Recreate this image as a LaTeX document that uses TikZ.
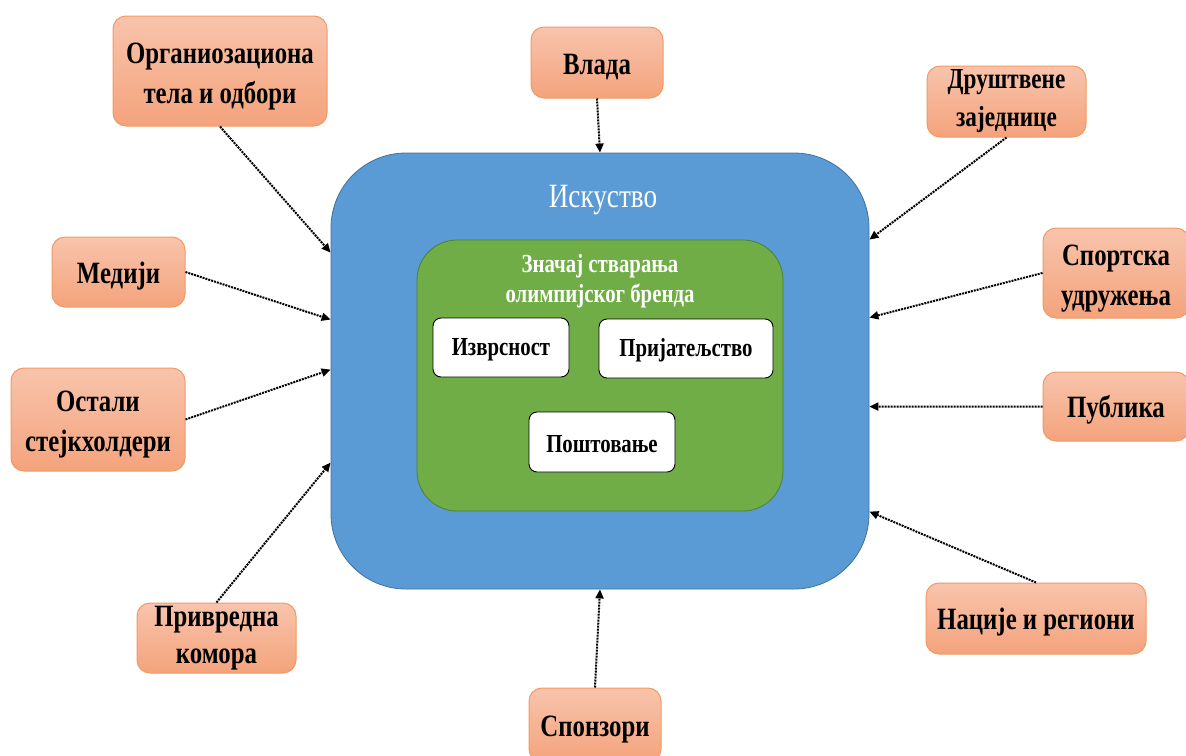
\documentclass[tikz,border=0pt]{standalone}
\usepackage{fontspec}
\setmainfont{Liberation Serif}
\newfontfamily\condfont[FakeStretch=0.8]{Liberation Serif}
\usetikzlibrary{arrows.meta}

\definecolor{orangeTop}{HTML}{F8C4AC}
\definecolor{orangeBot}{HTML}{F4A37C}
\definecolor{orangeEdge}{HTML}{F29A62}
\definecolor{expBlue}{HTML}{5B9BD5}
\definecolor{expEdge}{HTML}{41719C}
\definecolor{brandGreen}{HTML}{70AD47}
\definecolor{brandEdge}{HTML}{507E32}

% invisible strut that lowers the first text line a little
\newcommand{\firstlinestrut}{\rule{0pt}{31pt}}

\begin{document}
\begin{tikzpicture}[x=1pt,y=-1pt,
  actor/.style={draw=orangeEdge, line width=1pt, rounded corners=13pt,
    top color=orangeTop, bottom color=orangeBot, shading angle=0,
    align=center, inner sep=0pt,
    execute at begin node={\rule{0pt}{29pt}},
    font=\condfont\bfseries\fontsize{31}{40}\selectfont},
  value/.style={draw=black, line width=0.9pt, fill=white, rounded corners=8pt,
    align=center, inner sep=0pt,
    execute at begin node={\rule{0pt}{22pt}},
    font=\condfont\bfseries\fontsize{26}{30}\selectfont},
  link/.style={densely dotted, line width=2pt, black,
    -{Triangle[length=9pt,width=8pt]}}]

\useasboundingbox (0,0) rectangle (1186,755);

% central areas
\node[draw=expEdge, line width=0.8pt, fill=expBlue, rounded corners=75pt,
  minimum width=538pt, minimum height=436pt] (exp) at (600,371) {};
\node[text=white, font=\condfont\fontsize{34}{36}\selectfont] (exptitle) at (603,200) {Искуство};
\node[draw=brandEdge, line width=0.8pt, fill=brandGreen, rounded corners=40pt,
  minimum width=366pt, minimum height=271pt] (brand) at (600,375.5) {};
\node[text=white, align=center, font=\condfont\bfseries\fontsize{26}{30}\selectfont]
  (brandtitle) at (600,281) {Значај стварања\\олимпијског бренда};

% core values
\node[value, minimum width=136pt, minimum height=59pt] (izv) at (501,347.5) {Изврсност};
\node[value, minimum width=174pt, minimum height=59pt] (prij) at (686,348.5) {Пријатељство};
\node[value, minimum width=146pt, minimum height=60pt] (post) at (602,442) {Поштовање};

% stakeholders
\node[actor, minimum width=214pt, minimum height=110pt] (org) at (220,71) {\firstlinestrut Органиозациона\\тела и одбори};
\node[actor, minimum width=132pt, minimum height=71pt] (vlada) at (597,62.5) {Влада};
\node[actor, minimum width=159pt, minimum height=71pt,
  font=\condfont\bfseries\fontsize{29}{38}\selectfont] (drus) at (1006.5,101.5) {Друштвене\\заједнице};
\node[actor, minimum width=133pt, minimum height=70pt] (med) at (118.5,272) {Медији};
\node[actor, minimum width=146pt, minimum height=90pt] (sport) at (1116,273) {\firstlinestrut Спортска\\удружења};
\node[actor, minimum width=174pt, minimum height=103pt] (ost) at (98,419.5) {\firstlinestrut Остали\\стејкхолдери};
\node[actor, minimum width=146pt, minimum height=69pt] (pub) at (1116,406.5) {Публика};
\node[actor, minimum width=159pt, minimum height=70pt,
  font=\condfont\bfseries\fontsize{31}{37}\selectfont] (priv) at (216.5,638) {Привредна\\комора};
\node[actor, minimum width=220pt, minimum height=71pt] (nac) at (1036,618.5) {Нације и региони};
\node[actor, minimum width=132pt, minimum height=74pt] (spon) at (595,725) {Спонзори};

% influences on the experience
\draw[link] (org.south) -- ([yshift=-100pt]exp.north west);
\draw[link] (vlada.south) -- (exp.north);
\draw[link] (drus.south) -- ([yshift=-87pt]exp.north east);
\draw[link] (med.east) -- ([yshift=-167pt]exp.north west);
\draw[link] (sport.west) -- ([yshift=-165pt]exp.north east);
\draw[link] (ost.east) -- ([yshift=-217pt]exp.north west);
\draw[link] (pub.west) -- ([yshift=-254pt]exp.north east);
\draw[link] (priv.north) -- ([yshift=-310pt]exp.north west);
\draw[link] (nac.north) -- ([yshift=-359pt]exp.north east);
\draw[link] (spon.north) -- (exp.south);
\end{tikzpicture}
\end{document}
